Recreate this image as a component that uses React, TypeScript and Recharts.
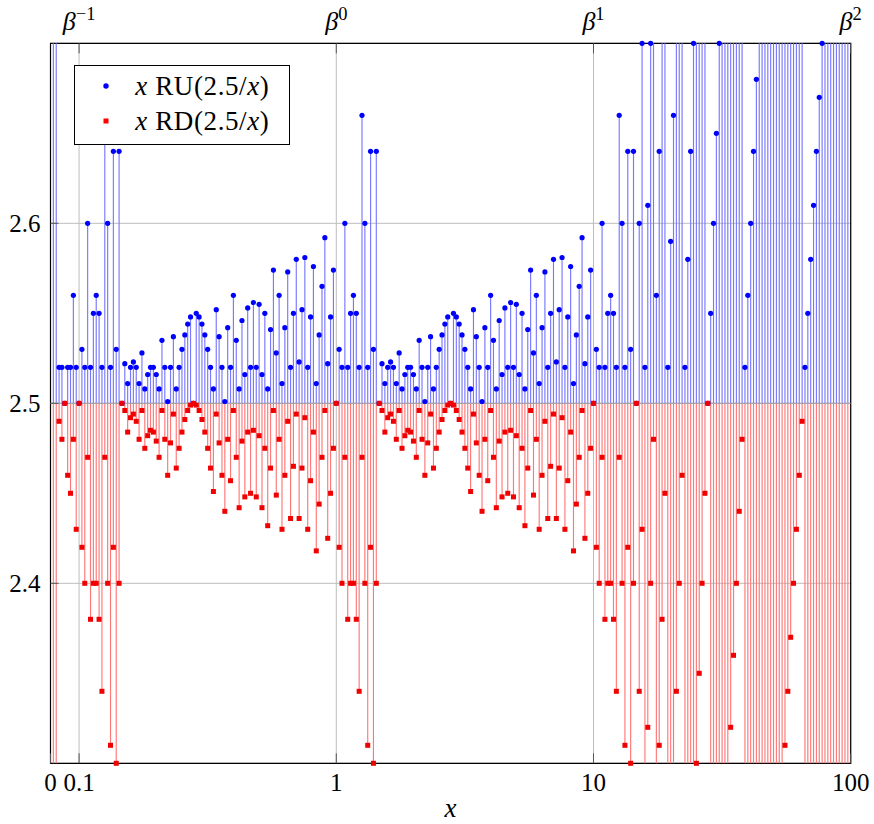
import {
  ComposedChart,
  Scatter,
  XAxis,
  YAxis,
  CartesianGrid,
  ErrorBar,
  ReferenceLine,
  ReferenceArea,
  Legend,
} from 'recharts'

const FONT = "'Liberation Serif', 'Times New Roman', serif"

// x RU(2.5/x), one value per representable x (2 digits, base 10)
// x = 0.01 .. 0.09 (the first two overflow above the frame)
const ruSub = [3.0, 3.0, 2.52, 2.52, 2.5, 2.52, 2.52, 2.56, 2.52]
// x = 0.10 .. 0.99
const ruDecade1 = [
  2.5, 2.53, 2.52, 2.6, 2.52, 2.55, 2.56, 2.55, 2.52, 2.66,
  2.6, 2.52, 2.64, 2.53, 2.64, 2.5, 2.522, 2.511, 2.52, 2.523,
  2.52, 2.511, 2.528, 2.508, 2.516, 2.52, 2.52, 2.516, 2.508, 2.535,
  2.52, 2.501, 2.52, 2.537, 2.508, 2.52, 2.53, 2.538, 2.544, 2.548,
  2.5, 2.55, 2.548, 2.544, 2.538, 2.53, 2.52, 2.508, 2.552, 2.537,
  2.52, 2.501, 2.542, 2.52, 2.56, 2.535, 2.508, 2.546, 2.516, 2.553,
  2.52, 2.556, 2.52, 2.555, 2.516, 2.55, 2.508, 2.541, 2.574, 2.528,
  2.56, 2.511, 2.542, 2.573, 2.52, 2.55, 2.58, 2.523, 2.552, 2.581,
  2.52, 2.548, 2.576, 2.511, 2.538, 2.565, 2.592, 2.522, 2.548, 2.574,
]
// x = 1.0 .. 9.9
const ruDecade2 = [
  2.5, 2.53, 2.52, 2.6, 2.52, 2.55, 2.56, 2.55, 2.52, 2.66,
  2.6, 2.52, 2.64, 2.53, 2.64, 2.5, 2.522, 2.511, 2.52, 2.523,
  2.52, 2.511, 2.528, 2.508, 2.516, 2.52, 2.52, 2.516, 2.508, 2.535,
  2.52, 2.501, 2.52, 2.537, 2.508, 2.52, 2.53, 2.538, 2.544, 2.548,
  2.5, 2.55, 2.548, 2.544, 2.538, 2.53, 2.52, 2.508, 2.552, 2.537,
  2.52, 2.501, 2.542, 2.52, 2.56, 2.535, 2.508, 2.546, 2.516, 2.553,
  2.52, 2.556, 2.52, 2.555, 2.516, 2.55, 2.508, 2.541, 2.574, 2.528,
  2.56, 2.511, 2.542, 2.573, 2.52, 2.55, 2.58, 2.523, 2.552, 2.581,
  2.52, 2.548, 2.576, 2.511, 2.538, 2.565, 2.592, 2.522, 2.548, 2.574,
]
// x = 10 .. 99
const ruDecade3 = [
  2.5, 2.53, 2.52, 2.6, 2.52, 2.55, 2.56, 2.55, 2.52, 2.66,
  2.6, 2.52, 2.64, 2.53, 2.64, 2.5, 2.6, 2.7, 2.52, 2.61,
  2.7, 2.79, 2.56, 2.64, 2.72, 2.8, 2.52, 2.59, 2.66, 2.73,
  2.8, 2.87, 2.52, 2.58, 2.64, 2.7, 2.76, 2.82, 2.88, 2.94,
  2.5, 2.55, 2.6, 2.65, 2.7, 2.75, 2.8, 2.85, 2.9, 2.95,
  3.0, 3.05, 3.1, 2.52, 2.56, 2.6, 2.64, 2.68, 2.72, 2.76,
  2.8, 2.84, 2.88, 2.92, 2.96, 3.0, 3.04, 3.08, 3.12, 3.16,
  3.2, 3.24, 3.28, 3.32, 2.52, 2.55, 2.58, 2.61, 2.64, 2.67,
  2.7, 2.73, 2.76, 2.79, 2.82, 2.85, 2.88, 2.91, 2.94, 2.97,
]

// x RD(2.5/x)
const rdSub = [0.99, 1.98, 2.49, 2.48, 2.5, 2.46, 2.45, 2.48, 2.43]
const rdDecade1 = [
  2.5, 2.42, 2.4, 2.47, 2.38, 2.4, 2.4, 2.38, 2.34, 2.47,
  2.4, 2.31, 2.42, 2.3, 2.4, 2.5, 2.496, 2.484, 2.492, 2.494,
  2.49, 2.48, 2.496, 2.475, 2.482, 2.485, 2.484, 2.479, 2.47, 2.496,
  2.48, 2.46, 2.478, 2.494, 2.464, 2.475, 2.484, 2.491, 2.496, 2.499,
  2.5, 2.499, 2.496, 2.491, 2.484, 2.475, 2.464, 2.451, 2.494, 2.478,
  2.46, 2.44, 2.48, 2.457, 2.496, 2.47, 2.442, 2.479, 2.448, 2.484,
  2.45, 2.485, 2.448, 2.482, 2.442, 2.475, 2.432, 2.464, 2.496, 2.449,
  2.48, 2.43, 2.46, 2.49, 2.436, 2.465, 2.494, 2.436, 2.464, 2.492,
  2.43, 2.457, 2.484, 2.418, 2.444, 2.47, 2.496, 2.425, 2.45, 2.475,
]
const rdDecade2 = [
  2.5, 2.42, 2.4, 2.47, 2.38, 2.4, 2.4, 2.38, 2.34, 2.47,
  2.4, 2.31, 2.42, 2.3, 2.4, 2.5, 2.496, 2.484, 2.492, 2.494,
  2.49, 2.48, 2.496, 2.475, 2.482, 2.485, 2.484, 2.479, 2.47, 2.496,
  2.48, 2.46, 2.478, 2.494, 2.464, 2.475, 2.484, 2.491, 2.496, 2.499,
  2.5, 2.499, 2.496, 2.491, 2.484, 2.475, 2.464, 2.451, 2.494, 2.478,
  2.46, 2.44, 2.48, 2.457, 2.496, 2.47, 2.442, 2.479, 2.448, 2.484,
  2.45, 2.485, 2.448, 2.482, 2.442, 2.475, 2.432, 2.464, 2.496, 2.449,
  2.48, 2.43, 2.46, 2.49, 2.436, 2.465, 2.494, 2.436, 2.464, 2.492,
  2.43, 2.457, 2.484, 2.418, 2.444, 2.47, 2.496, 2.425, 2.45, 2.475,
]
const rdDecade3 = [
  2.5, 2.42, 2.4, 2.47, 2.38, 2.4, 2.4, 2.38, 2.34, 2.47,
  2.4, 2.31, 2.42, 2.3, 2.4, 2.5, 2.34, 2.43, 2.24, 2.32,
  2.4, 2.48, 2.24, 2.31, 2.38, 2.45, 2.16, 2.22, 2.28, 2.34,
  2.4, 2.46, 2.1, 2.15, 2.2, 2.25, 2.3, 2.35, 2.4, 2.45,
  2.5, 2.04, 2.08, 2.12, 2.16, 2.2, 2.24, 2.28, 2.32, 2.36,
  2.4, 2.44, 2.48, 1.89, 1.92, 1.95, 1.98, 2.01, 2.04, 2.07,
  2.1, 2.13, 2.16, 2.19, 2.22, 2.25, 2.28, 2.31, 2.34, 2.37,
  2.4, 2.43, 2.46, 2.49, 1.68, 1.7, 1.72, 1.74, 1.76, 1.78,
  1.8, 1.82, 1.84, 1.86, 1.88, 1.9, 1.92, 1.94, 1.96, 1.98,
]

// x axis is the rank of x among the floats: 0 -> 0, 0.1 -> 10, 1 -> 100, 10 -> 190, 100 -> 280
const xTicks = [0, 10, 100, 190, 280]
const xTickLabels = ['0', '0.1', '1', '10', '100']
const topTicks = [10, 100, 190, 280]
const topExponents = ['\u22121', '0', '1', '2']
const yTicks = [2.4, 2.5, 2.6]
const Y_MIN = 2.3
const Y_MAX = 2.7
const BASE = 2.5

const ru = [...ruSub, ...ruDecade1, ...ruDecade2, ...ruDecade3]
const rd = [...rdSub, ...rdDecade1, ...rdDecade2, ...rdDecade3]

const round = (v: number) => Math.round(v * 10000) / 10000
const clamp = (v: number) => Math.min(Math.max(v, Y_MIN), Y_MAX)

// stems start at 2.5 and stop at the frame
const ruStems = ru.map((v, k) => ({ i: k + 1, v: BASE, err: [0, round(clamp(v) - BASE)] }))
const rdStems = rd.map((v, k) => ({ i: k + 1, v: BASE, err: [round(BASE - clamp(v)), 0] }))
const ruDots = ru.map((v, k) => ({ i: k + 1, v })).filter((p) => p.v <= Y_MAX)
const rdDots = rd.map((v, k) => ({ i: k + 1, v })).filter((p) => p.v >= Y_MIN)

const legendItems = [
  { fn: 'RU', color: '#0000ff', marker: 'circle' },
  { fn: 'RD', color: '#ff0000', marker: 'square' },
]

const tickStyle = { fill: '#000', fontSize: 25, fontFamily: FONT }

function BetaTick(props: any) {
  const { x, y, payload } = props
  const exp = topExponents[topTicks.indexOf(payload.value)]
  return (
    <text x={x} y={y} textAnchor="middle" fontFamily={FONT} fontSize={26} fill="#000">
      <tspan fontStyle="italic">β</tspan>
      <tspan fontSize={18.5} dy={-10}>{exp}</tspan>
    </text>
  )
}

function LegendBox() {
  return (
    <div
      style={{
        boxSizing: 'border-box',
        width: 216,
        height: 80,
        border: '1px solid #000',
        background: '#fff',
        position: 'relative',
        fontFamily: FONT,
        fontSize: 27,
        color: '#000',
      }}
    >
      {legendItems.map((item, k) => (
        <div
          key={item.fn}
          style={{
            position: 'absolute',
            left: 0,
            top: 5 + k * 34.4,
            height: 30,
            lineHeight: '30px',
            display: 'flex',
            alignItems: 'center',
            whiteSpace: 'nowrap',
          }}
        >
          <svg width={60} height={30} style={{ display: 'block' }}>
            {item.marker === 'circle' ? (
              <circle cx={31} cy={15} r={2.7} fill={item.color} />
            ) : (
              <rect x={28.5} y={12.5} width={5} height={5} fill={item.color} />
            )}
          </svg>
          <span style={{ letterSpacing: 0.6 }}>
            <i>x</i> {item.fn}(2.5/<i>x</i>)
          </span>
        </div>
      ))}
    </div>
  )
}

export default function App() {
  return (
    <div style={{ position: 'absolute', left: 0, top: 0 }}>
      <ComposedChart width={874} height={824} margin={{ top: 0, right: 23.3, bottom: 0, left: 0 }}>
        <CartesianGrid stroke="#bdbdbd" strokeWidth={1} />
        <XAxis
          dataKey="i"
          type="number"
          domain={[0, 280]}
          ticks={xTicks}
          interval={0}
          allowDataOverflow
          height={60.7}
          axisLine={false}
          tickSize={-10}
          tickMargin={19.5}
          tickLine={{ stroke: '#555' }}
          tick={tickStyle}
          tickFormatter={(t: number) => xTickLabels[xTicks.indexOf(t)]}
          label={{
            value: 'x',
            position: 'insideBottom',
            offset: 7,
            style: { fontStyle: 'italic', fontSize: 27, fontFamily: FONT, fill: '#000' },
          }}
        />
        <XAxis
          xAxisId="top"
          dataKey="i"
          orientation="top"
          type="number"
          domain={[0, 280]}
          ticks={topTicks}
          interval={0}
          allowDataOverflow
          height={43.3}
          axisLine={false}
          tickSize={-10}
          tickMargin={23.5}
          tickLine={{ stroke: '#555' }}
          tick={(p: any) => <BetaTick {...p} />}
        />
        <YAxis
          dataKey="v"
          type="number"
          domain={[Y_MIN, Y_MAX]}
          ticks={yTicks}
          interval={0}
          width={50.5}
          axisLine={false}
          tickSize={-8}
          tickMargin={18}
          tickLine={{ stroke: '#555' }}
          tick={tickStyle}
          tickFormatter={(t: number) => t.toFixed(1)}
        />
        <Scatter data={ruStems} legendType="none" isAnimationActive={false} shape={() => <g />}>
          <ErrorBar dataKey="err" direction="y" width={0} stroke="#7878ff" strokeWidth={1.15} isAnimationActive={false} />
        </Scatter>
        <Scatter
          data={ruDots}
          name="ru"
          isAnimationActive={false}
          shape={(p: any) => <circle cx={p.cx} cy={p.cy} r={2.6} fill="#0000ff" />}
        />
        <Scatter data={rdStems} legendType="none" isAnimationActive={false} shape={() => <g />}>
          <ErrorBar dataKey="err" direction="y" width={0} stroke="#ff7878" strokeWidth={1.15} isAnimationActive={false} />
        </Scatter>
        <Scatter
          data={rdDots}
          name="rd"
          isAnimationActive={false}
          shape={(p: any) => <rect x={p.cx - 2.5} y={p.cy - 2.5} width={5} height={5} fill="#f00000" />}
        />
        <ReferenceLine y={BASE} stroke="#a0a0a0" strokeWidth={1} />
        <ReferenceArea x1={0} x2={280} y1={Y_MIN} y2={Y_MAX} fill="none" stroke="#000" strokeWidth={1.2} />
        <Legend
          layout="horizontal"
          verticalAlign="middle"
          align="center"
          wrapperStyle={{ left: 74.3, top: 65.3, width: 216, height: 80 }}
          content={() => <LegendBox />}
        />
      </ComposedChart>
    </div>
  )
}
